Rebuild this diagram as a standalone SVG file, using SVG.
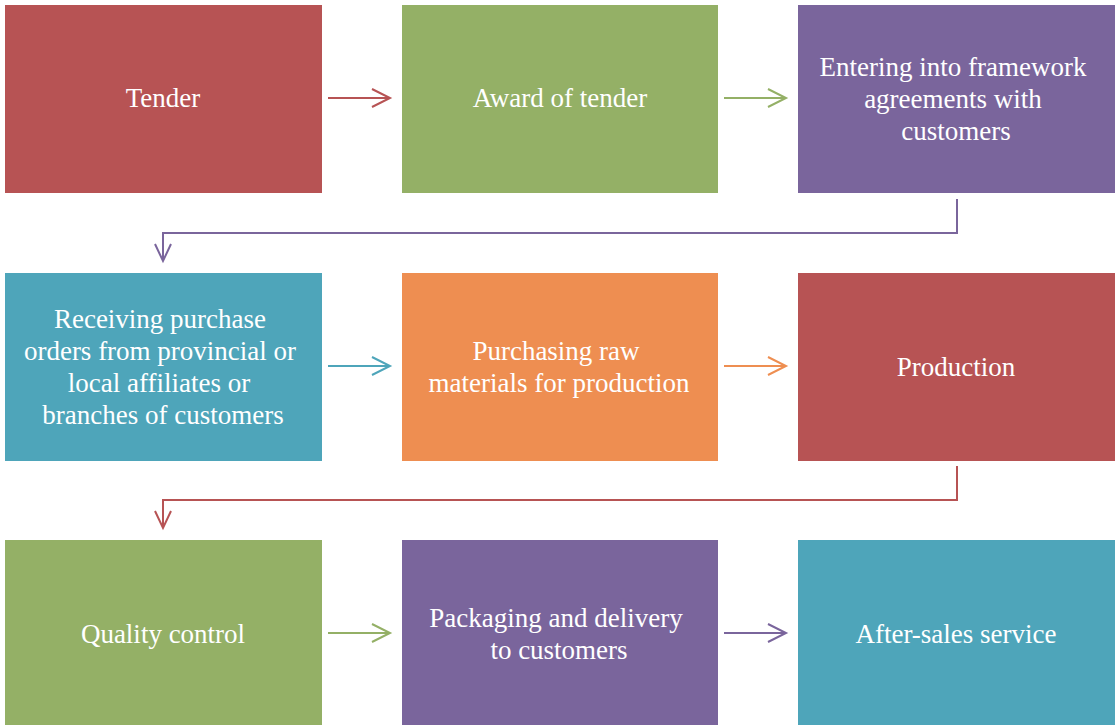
<svg xmlns="http://www.w3.org/2000/svg" width="1115" height="725" viewBox="0 0 1115 725">
  <style>
    .box { stroke: none; }
    .lbl { font-family: "Liberation Serif", "Times New Roman", serif; font-size: 27px; fill: #ffffff; text-anchor: middle; }
    .conn { fill: none; stroke-width: 2; }
    .head { fill: none; stroke-width: 2; stroke-linejoin: miter; }
    .red { fill: #B75354; }
    .green { fill: #94B066; }
    .purple { fill: #7A659C; }
    .teal { fill: #4EA5BA; }
    .orange { fill: #EE8E51; }
  </style>
  <rect width="1115" height="725" fill="#ffffff"/>

  <!-- row 1 -->
  <g id="tender">
    <rect class="box red" x="5" y="5" width="317" height="188"/>
    <text class="lbl" x="163" y="107">Tender</text>
  </g>
  <g id="award">
    <rect class="box green" x="402" y="5" width="316" height="188"/>
    <text class="lbl" x="560" y="107">Award of tender</text>
  </g>
  <g id="framework">
    <rect class="box purple" x="798" y="5" width="317" height="188"/>
    <text class="lbl" x="953" y="76">Entering into framework</text>
    <text class="lbl" x="953" y="108">agreements with</text>
    <text class="lbl" x="956" y="140">customers</text>
  </g>

  <!-- row 2 -->
  <g id="orders">
    <rect class="box teal" x="5" y="273" width="317" height="188"/>
    <text class="lbl" x="160" y="328">Receiving purchase</text>
    <text class="lbl" x="160" y="360">orders from provincial or</text>
    <text class="lbl" x="159" y="392">local affiliates or</text>
    <text class="lbl" x="163" y="424">branches of customers</text>
  </g>
  <g id="materials">
    <rect class="box orange" x="402" y="273" width="316" height="188"/>
    <text class="lbl" x="556" y="360">Purchasing raw</text>
    <text class="lbl" x="559" y="392">materials for production</text>
  </g>
  <g id="production">
    <rect class="box red" x="798" y="273" width="317" height="188"/>
    <text class="lbl" x="956" y="376">Production</text>
  </g>

  <!-- row 3 -->
  <g id="quality">
    <rect class="box green" x="5" y="540" width="317" height="185"/>
    <text class="lbl" x="163" y="643">Quality control</text>
  </g>
  <g id="delivery">
    <rect class="box purple" x="402" y="540" width="316" height="185"/>
    <text class="lbl" x="556" y="627">Packaging and delivery</text>
    <text class="lbl" x="559" y="659">to customers</text>
  </g>
  <g id="aftersales">
    <rect class="box teal" x="798" y="540" width="317" height="185"/>
    <text class="lbl" x="956" y="643">After-sales service</text>
  </g>

  <!-- connectors -->
  <g id="connectors">
    <g stroke="#B75354">
      <line class="conn" x1="328" y1="98" x2="389" y2="98"/>
      <polyline class="head" points="372,89 390,98 372,107"/>
    </g>
    <g stroke="#94B066">
      <line class="conn" x1="724" y1="98" x2="785" y2="98"/>
      <polyline class="head" points="768,89 786,98 768,107"/>
    </g>
    <g stroke="#7A659C">
      <polyline class="conn" points="957,199 957,233 163,233 163,260"/>
      <polyline class="head" points="155,244 163,261 171,244"/>
    </g>
    <g stroke="#4EA5BA">
      <line class="conn" x1="328" y1="366" x2="389" y2="366"/>
      <polyline class="head" points="372,357 390,366 372,375"/>
    </g>
    <g stroke="#EE8E51">
      <line class="conn" x1="724" y1="366" x2="785" y2="366"/>
      <polyline class="head" points="768,357 786,366 768,375"/>
    </g>
    <g stroke="#B75354">
      <polyline class="conn" points="957,466 957,500 163,500 163,527"/>
      <polyline class="head" points="155,511 163,528 171,511"/>
    </g>
    <g stroke="#94B066">
      <line class="conn" x1="328" y1="633" x2="389" y2="633"/>
      <polyline class="head" points="372,624 390,633 372,642"/>
    </g>
    <g stroke="#7A659C">
      <line class="conn" x1="724" y1="633" x2="785" y2="633"/>
      <polyline class="head" points="768,624 786,633 768,642"/>
    </g>
  </g>
</svg>
